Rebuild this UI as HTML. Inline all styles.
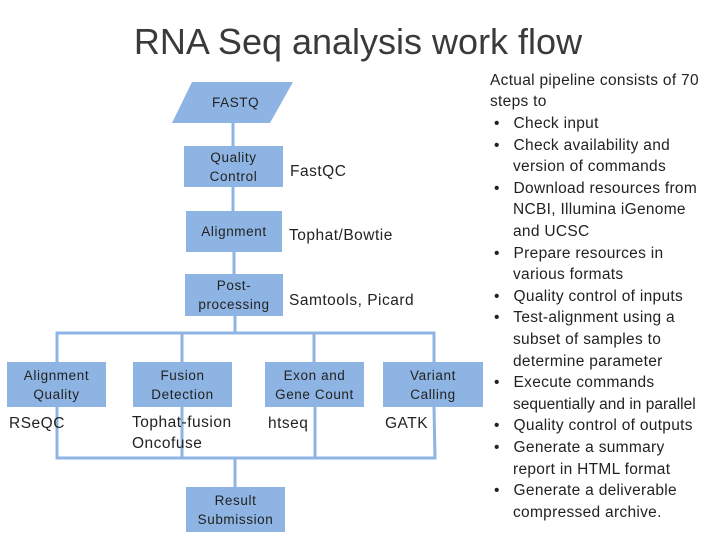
<!DOCTYPE html>
<html><head><style>
body{margin:0;width:720px;height:540px;background:#fff;position:relative;overflow:hidden;font-family:"Liberation Sans",sans-serif;color:#222}
.t{position:absolute;white-space:nowrap}
.b{position:absolute;background:#8eb4e3;display:flex;align-items:center;justify-content:center;text-align:center;font-size:13.5px;letter-spacing:0.6px;line-height:19px;color:#222}
.r{position:absolute;font-size:15.5px;letter-spacing:0.3px;white-space:nowrap;line-height:20px}
.d{font-size:15.5px;letter-spacing:0.5px}
</style></head><body>
<div class="t" style="left:0;width:716px;text-align:center;top:21px;font-size:36px;color:#3a3a3a">RNA Seq analysis work flow</div>
<svg width="720" height="540" style="position:absolute;left:0;top:0">
<polygon points="192,82 293,82 270,123 172,123" fill="#8eb4e3"/>
<g stroke="#8eb4e3" stroke-width="3" fill="none">
<line x1="233" y1="123" x2="233" y2="146"/>
<line x1="233" y1="187" x2="233" y2="211"/>
<line x1="234" y1="252" x2="234" y2="274"/>
<line x1="235" y1="316" x2="235" y2="333"/>
<polyline points="57,362 57,333 434,333 434,362"/>
<line x1="182" y1="333" x2="182" y2="362"/>
<line x1="314" y1="333" x2="314" y2="362"/>
<polyline points="57,407 57,458 435,458 434,407"/>
<line x1="182" y1="407" x2="182" y2="458"/>
<line x1="315" y1="407" x2="315" y2="458"/>
<line x1="235" y1="458" x2="235" y2="487"/>
</g>
</svg>
<div class="t" style="left:212px;top:95px;font-size:13.5px;letter-spacing:0.6px">FASTQ</div>
<div class="b" style="left:184px;top:146px;width:99px;height:41px">Quality<br>Control</div>
<div class="b" style="left:186px;top:211px;width:96px;height:41px">Alignment</div>
<div class="b" style="left:185px;top:274px;width:98px;height:42px">Post-<br>processing</div>
<div class="b" style="left:7px;top:362px;width:99px;height:45px">Alignment<br>Quality</div>
<div class="b" style="left:133px;top:362px;width:99px;height:45px">Fusion<br>Detection</div>
<div class="b" style="left:265px;top:362px;width:99px;height:45px">Exon and<br>Gene Count</div>
<div class="b" style="left:383px;top:362px;width:100px;height:45px">Variant<br>Calling</div>
<div class="b" style="left:186px;top:487px;width:99px;height:45px">Result<br>Submission</div>
<div class="t d" style="left:290px;top:163px">FastQC</div>
<div class="t d" style="left:289px;top:227px">Tophat/Bowtie</div>
<div class="t d" style="left:289px;top:292px">Samtools, Picard</div>
<div class="t d" style="left:9px;top:415px">RSeQC</div>
<div class="t d" style="left:132px;top:412px;line-height:21px">Tophat-fusion<br>Oncofuse</div>
<div class="t d" style="left:268px;top:415px">htseq</div>
<div class="t d" style="left:385px;top:415px">GATK</div>
<div class="r" style="left:490px;top:71px">Actual pipeline consists of 70</div>
<div class="r" style="left:490px;top:92px">steps to</div>
<div class="r" style="left:494px;top:114px">•&nbsp;&nbsp; Check input</div>
<div class="r" style="left:494px;top:136px">•&nbsp;&nbsp; Check availability and</div>
<div class="r" style="left:513px;top:157px">version of commands</div>
<div class="r" style="left:494px;top:179px">•&nbsp;&nbsp; Download resources from</div>
<div class="r" style="left:513px;top:200px">NCBI, Illumina iGenome</div>
<div class="r" style="left:513px;top:222px">and UCSC</div>
<div class="r" style="left:494px;top:244px">•&nbsp;&nbsp; Prepare resources in</div>
<div class="r" style="left:513px;top:265px">various formats</div>
<div class="r" style="left:494px;top:287px">•&nbsp;&nbsp; Quality control of inputs</div>
<div class="r" style="left:494px;top:308px">•&nbsp;&nbsp; Test-alignment using a</div>
<div class="r" style="left:513px;top:330px">subset of samples to</div>
<div class="r" style="left:513px;top:352px">determine parameter</div>
<div class="r" style="left:494px;top:373px">•&nbsp;&nbsp; Execute commands</div>
<div class="r" style="left:513px;top:395px;letter-spacing:0">sequentially and in parallel</div>
<div class="r" style="left:494px;top:416px">•&nbsp;&nbsp; Quality control of outputs</div>
<div class="r" style="left:494px;top:438px">•&nbsp;&nbsp; Generate a summary</div>
<div class="r" style="left:513px;top:460px">report in HTML format</div>
<div class="r" style="left:494px;top:481px">•&nbsp;&nbsp; Generate a deliverable</div>
<div class="r" style="left:513px;top:503px">compressed archive.</div>
</body></html>
